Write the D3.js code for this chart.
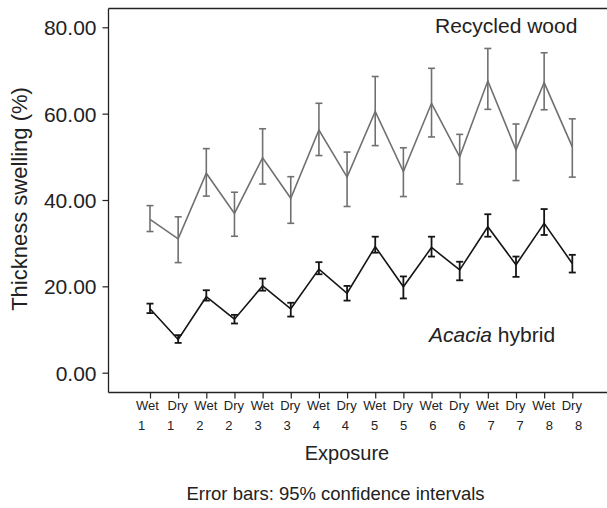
<!DOCTYPE html>
<html>
<head>
<meta charset="utf-8">
<script src="https://cdn.jsdelivr.net/npm/d3@7"></script>
<style>
  html, body { margin: 0; padding: 0; background: #fff; }
  svg { display: block; font-family: "Liberation Sans", Arial, Helvetica, sans-serif; }
</style>
</head>
<body>
<svg id="chart" width="607" height="508"></svg>
<script>
// Exposure cycles: alternating wet / dry phases, numbered 1–8
const phases = ["Wet","Dry","Wet","Dry","Wet","Dry","Wet","Dry","Wet","Dry","Wet","Dry","Wet","Dry","Wet","Dry"];
const cycles = ["1","1","2","2","3","3","4","4","5","5","6","6","7","7","8","8"];

// Recycled wood: mean thickness swelling (%) with 95% CI bounds
const woodMean  = [35.5, 31.0, 46.2, 36.9, 49.8, 40.4, 56.2, 45.3, 60.5, 46.6, 62.4, 50.0, 67.6, 51.6, 67.2, 52.3];
const woodLower = [32.7, 25.5, 40.9, 31.6, 43.7, 34.6, 50.3, 38.5, 52.6, 40.8, 54.6, 43.7, 61.0, 44.5, 60.9, 45.3];
const woodUpper = [38.7, 36.1, 51.9, 41.8, 56.5, 45.4, 62.4, 51.1, 68.6, 52.1, 70.5, 55.2, 75.1, 57.6, 74.1, 58.8];

// Acacia hybrid: mean thickness swelling (%) with 95% CI bounds
const acaciaMean  = [14.8, 7.7, 17.6, 12.4, 20.1, 14.8, 24.0, 18.4, 29.2, 19.9, 29.0, 23.8, 33.8, 25.0, 34.6, 25.3];
const acaciaLower = [13.8, 6.9, 16.7, 11.4, 19.0, 13.0, 22.8, 16.7, 27.8, 17.2, 26.9, 21.4, 31.5, 22.2, 31.9, 23.2];
const acaciaUpper = [16.0, 8.7, 19.1, 13.4, 21.8, 16.2, 25.6, 20.1, 31.5, 22.3, 31.5, 25.7, 36.7, 26.9, 37.9, 27.3];

const yTicks = [0, 20, 40, 60, 80];

const svg = d3.select("#chart");

const frame = { left: 108.5, right: 607, top: 8.5, bottom: 392.5 };
const keys = phases.map((p, i) => i);

const x = d3.scalePoint().domain(keys).range([150, 572.3]);
// the cycle-number row is laid out on its own slightly wider spacing
const xNum = d3.scalePoint().domain(keys).range([141, 578]);
const y = d3.scaleLinear().domain([0, 80]).range([372.7, 27.3]);

const axisColor = "#222";
const textColor = "#222";

// Frame: top rule and axes
svg.append("line")
  .attr("x1", frame.left).attr("x2", frame.right)
  .attr("y1", frame.top).attr("y2", frame.top)
  .attr("stroke", axisColor).attr("stroke-width", 1.3);

// Y axis
const yAxis = d3.axisLeft(y).tickValues(yTicks).tickFormat(d3.format(".2f")).tickSize(6).tickSizeOuter(0);
const gy = svg.append("g").attr("transform", `translate(${frame.left},0)`).call(yAxis);
gy.select(".domain").remove();
gy.selectAll(".tick line").attr("stroke", axisColor).attr("stroke-width", 1.2);
gy.selectAll(".tick text")
  .attr("x", -12).attr("dy", "0.36em")
  .attr("fill", textColor)
  .style("font-size", "21px");
svg.append("line")
  .attr("x1", frame.left).attr("x2", frame.left)
  .attr("y1", frame.top).attr("y2", frame.bottom)
  .attr("stroke", axisColor).attr("stroke-width", 1.3);

// X axis
const xAxis = d3.axisBottom(x).tickSize(6).tickSizeOuter(0).tickFormat(() => "");
const gx = svg.append("g").attr("transform", `translate(0,${frame.bottom})`).call(xAxis);
gx.select(".domain").remove();
gx.selectAll(".tick line").attr("stroke", axisColor).attr("stroke-width", 1.2);
gx.selectAll(".tick").each(function(d) {
  const t = d3.select(this).select("text");
  t.text(null).attr("y", 0).attr("dy", null)
    .attr("fill", textColor).style("font-size", "13px");
  t.append("tspan").attr("x", d === 0 ? -3 : -1).attr("y", 17).text(phases[d]);
  t.append("tspan").attr("x", xNum(d) - x(d)).attr("y", 37).text(cycles[d]);
});
svg.append("line")
  .attr("x1", frame.left).attr("x2", frame.right)
  .attr("y1", frame.bottom).attr("y2", frame.bottom)
  .attr("stroke", axisColor).attr("stroke-width", 1.3);

// Series with error bars
function drawSeries(mean, lower, upper, color, lineWidth, barWidth) {
  const g = svg.append("g");
  const line = d3.line().x((d, i) => x(i)).y(d => y(d));
  g.append("path").datum(mean)
    .attr("d", line).attr("fill", "none")
    .attr("stroke", color).attr("stroke-width", lineWidth)
    .attr("stroke-linejoin", "miter");
  const cap = 3.5;
  const bars = g.selectAll(".eb").data(keys).enter().append("g");
  bars.append("line")
    .attr("x1", i => x(i)).attr("x2", i => x(i))
    .attr("y1", i => y(lower[i])).attr("y2", i => y(upper[i]))
    .attr("stroke", color).attr("stroke-width", barWidth);
  bars.append("line")
    .attr("x1", i => x(i) - cap).attr("x2", i => x(i) + cap)
    .attr("y1", i => y(upper[i])).attr("y2", i => y(upper[i]))
    .attr("stroke", color).attr("stroke-width", barWidth);
  bars.append("line")
    .attr("x1", i => x(i) - cap).attr("x2", i => x(i) + cap)
    .attr("y1", i => y(lower[i])).attr("y2", i => y(lower[i]))
    .attr("stroke", color).attr("stroke-width", barWidth);
}

drawSeries(woodMean, woodLower, woodUpper, "#707070", 1.6, 1.6);
drawSeries(acaciaMean, acaciaLower, acaciaUpper, "#151515", 1.6, 1.8);

// Series labels
svg.append("text")
  .attr("x", 435).attr("y", 32.5)
  .attr("fill", textColor).style("font-size", "21px")
  .text("Recycled wood");

const acLabel = svg.append("text")
  .attr("x", 429).attr("y", 342)
  .attr("fill", textColor).style("font-size", "21px");
acLabel.append("tspan").style("font-style", "italic").text("Acacia");
acLabel.append("tspan").text(" hybrid");

// Axis titles
svg.append("text")
  .attr("transform", "translate(27,199) rotate(-90)")
  .attr("text-anchor", "middle")
  .attr("fill", textColor).style("font-size", "22px")
  .text("Thickness swelling (%)");

svg.append("text")
  .attr("x", 347).attr("y", 460)
  .attr("text-anchor", "middle")
  .attr("fill", textColor).style("font-size", "20px")
  .text("Exposure");

svg.append("text")
  .attr("x", 335.5).attr("y", 500)
  .attr("text-anchor", "middle")
  .attr("fill", textColor).style("font-size", "18.5px")
  .text("Error bars: 95% confidence intervals");
</script>
</body>
</html>
